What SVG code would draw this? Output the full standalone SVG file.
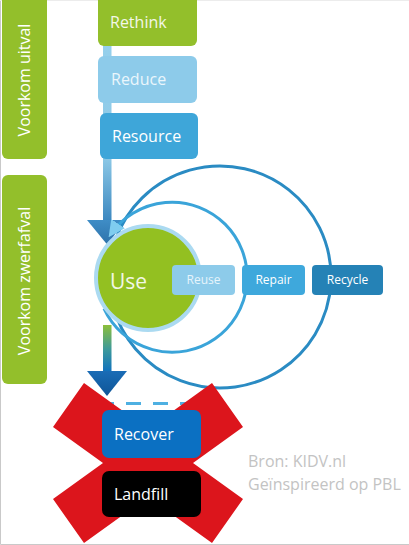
<svg xmlns="http://www.w3.org/2000/svg" width="409" height="545" viewBox="0 0 409 545">
<style>
text{font-family:"Open Sans","Liberation Sans",sans-serif;}
.green{fill:#93bf2b;}
.lbl{font-size:16px;fill:#ffffff;}
.sm{font-size:12px;fill:#ffffff;text-anchor:middle;}
.src{font-size:16px;fill:#c3c3c3;}
</style>
<defs>
<linearGradient id="gTop" x1="0" y1="0" x2="0" y2="1">
<stop offset="0" stop-color="#95d0ec"/>
<stop offset="0.65" stop-color="#8cc8e6"/>
<stop offset="1" stop-color="#3a86bf"/>
</linearGradient>
<linearGradient id="gHeadTop" x1="0" y1="0" x2="0" y2="1">
<stop offset="0" stop-color="#3f8dc6"/>
<stop offset="1" stop-color="#2d72aa"/>
</linearGradient>
<linearGradient id="gBot" x1="0" y1="0" x2="0" y2="1">
<stop offset="0" stop-color="#8cbf3a"/>
<stop offset="0.5" stop-color="#3e9a9a"/>
<stop offset="1" stop-color="#0d6fc0"/>
</linearGradient>
<linearGradient id="gHeadBot" x1="0" y1="0" x2="0" y2="1">
<stop offset="0" stop-color="#1a6cb6"/>
<stop offset="1" stop-color="#0f5597"/>
</linearGradient>
<marker id="ah" viewBox="0 0 10 10" refX="8" refY="5" markerWidth="5.5" markerHeight="5.5" orient="auto" markerUnits="strokeWidth">
<path d="M0,0 L10,5 L0,10 Z" fill="#7fcdef"/>
</marker>
</defs>
<rect width="409" height="545" fill="#ffffff"/>
<path d="M0.5,0 V544.5 H409" fill="none" stroke="#c9c9c9" stroke-width="1"/>
<line x1="0" y1="0.5" x2="409" y2="0.5" stroke="#ececec" stroke-width="1"/>

<g id="voorkom-uitval">
<rect x="2" y="-8" width="45" height="167" rx="6" class="green"/>
<text class="lbl" transform="translate(30,80) rotate(-90)" text-anchor="middle">Voorkom uitval</text>
</g>
<g id="voorkom-zwerfafval">
<rect x="2" y="175" width="45" height="209" rx="6" class="green"/>
<text class="lbl" transform="translate(30,281) rotate(-90)" text-anchor="middle">Voorkom zwerfafval</text>
</g>

<g id="connectors">
<rect x="103" y="40" width="8.5" height="182" fill="url(#gTop)"/>
<path d="M87,220 L125,220 L107.5,245 Z" fill="url(#gHeadTop)"/>
<rect x="103" y="325" width="8.5" height="48" fill="url(#gBot)"/>
<path d="M87,371 L127,371 L107,396 Z" fill="url(#gHeadBot)"/>
<path d="M112.8,305.7 A111,111 0 1 0 115.7,239" fill="none" stroke="#2a8bc3" stroke-width="3"/>
<path d="M104,308.7 A75,75 0 1 0 110.5,234.5" fill="none" stroke="#3aa4d9" stroke-width="3" marker-end="url(#ah)"/>
<line x1="99" y1="403.5" x2="197" y2="403.5" stroke="#4eb0e2" stroke-width="3" stroke-dasharray="15 12"/>
</g>

<g id="rethink">
<rect x="98" y="-6" width="99" height="52" rx="6" fill="#93bf2b"/>
<text class="lbl" x="110" y="28" style="fill:#f3f7e8">Rethink</text>
</g>
<g id="reduce">
<rect x="98" y="56" width="99" height="47" rx="6" fill="#8dcbea"/>
<text class="lbl" x="111" y="85" style="fill:#eaf6fc">Reduce</text>
</g>
<g id="resource">
<rect x="100" y="113" width="98" height="46" rx="6" fill="#3ea6d9"/>
<text class="lbl" x="112" y="142">Resource</text>
</g>

<g id="use">
<circle cx="148" cy="278" r="52" fill="#93c021" stroke="#abdaf1" stroke-width="4"/>
<text x="110" y="289" style="font-size:21px;fill:#f1f7e4">Use</text>
</g>
<g id="reuse">
<rect x="172" y="265" width="63" height="30" rx="4" fill="#8dcbea"/>
<text class="sm" x="203.5" y="284" style="fill:#e6f4fb">Reuse</text>
</g>
<g id="repair">
<rect x="242" y="265" width="63" height="30" rx="4" fill="#3ea8dc"/>
<text class="sm" x="273.5" y="284">Repair</text>
</g>
<g id="recycle">
<rect x="312" y="265" width="71" height="30" rx="4" fill="#2582b6"/>
<text class="sm" x="347.5" y="284">Recycle</text>
</g>

<g id="cross">
<polygon points="84,383 148,429 212,383 243,427 193,463 243,499 212,543 148,497 84,543 53,499 103,463 53,427" fill="#dc151c"/>
</g>
<g id="recover">
<rect x="102" y="410" width="99" height="48" rx="7" fill="#0b70c2"/>
<text class="lbl" x="114" y="440">Recover</text>
</g>
<g id="landfill">
<rect x="102" y="471" width="99" height="46" rx="7" fill="#000000"/>
<text class="lbl" x="114" y="500">Landfill</text>
</g>

<g id="bron">
<text class="src" x="248" y="467">Bron: KIDV.nl</text>
<text class="src" x="248" y="490">Geïnspireerd op PBL</text>
</g>
</svg>
